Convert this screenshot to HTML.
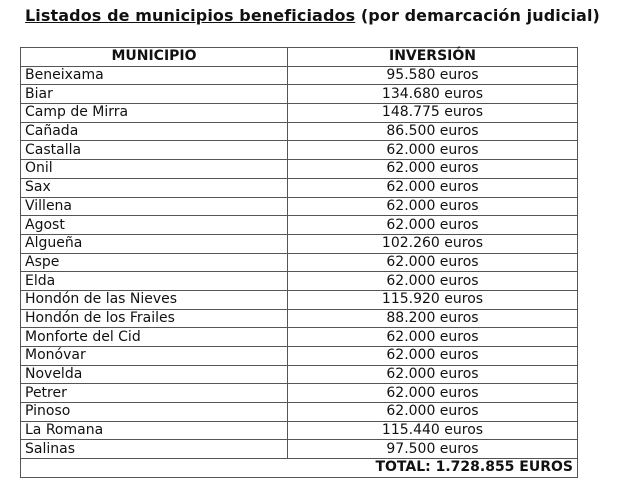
<!DOCTYPE html>
<html><head><meta charset="utf-8"><style>
body{margin:0;background:#fff;width:619px;height:492px;overflow:hidden;font-family:"DejaVu Sans","Liberation Sans",sans-serif;color:#111}
.t{position:absolute;left:25px;top:6px;font-weight:bold;font-size:16px;white-space:nowrap;letter-spacing:0.1px}
table{position:absolute;left:20px;top:47px;width:558px;border-collapse:collapse;font-size:14px}
td{border:1px solid #555;height:17.7px;padding:0 0 0 4px;line-height:17px;white-space:nowrap}
td.v{text-align:center;padding:0}
td:first-child{width:262px}
th{border:1px solid #555;height:17.7px;font-weight:bold;padding:0;line-height:17px}
.tot{text-align:right;font-weight:bold;padding-right:4px;border-left:1px solid #555}
</style></head><body>
<div class="t"><u>Listados de municipios beneficiados</u> (por demarcación judicial)</div>
<table>
<tr><th>MUNICIPIO</th><th>INVERSIÓN</th></tr>
<tr><td>Beneixama</td><td class="v">95.580 euros</td></tr>
<tr><td>Biar</td><td class="v">134.680 euros</td></tr>
<tr><td>Camp de Mirra</td><td class="v">148.775 euros</td></tr>
<tr><td>Cañada</td><td class="v">86.500 euros</td></tr>
<tr><td>Castalla</td><td class="v">62.000 euros</td></tr>
<tr><td>Onil</td><td class="v">62.000 euros</td></tr>
<tr><td>Sax</td><td class="v">62.000 euros</td></tr>
<tr><td>Villena</td><td class="v">62.000 euros</td></tr>
<tr><td>Agost</td><td class="v">62.000 euros</td></tr>
<tr><td>Algueña</td><td class="v">102.260 euros</td></tr>
<tr><td>Aspe</td><td class="v">62.000 euros</td></tr>
<tr><td>Elda</td><td class="v">62.000 euros</td></tr>
<tr><td>Hondón de las Nieves</td><td class="v">115.920 euros</td></tr>
<tr><td>Hondón de los Frailes</td><td class="v">88.200 euros</td></tr>
<tr><td>Monforte del Cid</td><td class="v">62.000 euros</td></tr>
<tr><td>Monóvar</td><td class="v">62.000 euros</td></tr>
<tr><td>Novelda</td><td class="v">62.000 euros</td></tr>
<tr><td>Petrer</td><td class="v">62.000 euros</td></tr>
<tr><td>Pinoso</td><td class="v">62.000 euros</td></tr>
<tr><td>La Romana</td><td class="v">115.440 euros</td></tr>
<tr><td>Salinas</td><td class="v">97.500 euros</td></tr>
<tr><td colspan="2" class="tot">TOTAL: 1.728.855 EUROS</td></tr>
</table>
</body></html>
